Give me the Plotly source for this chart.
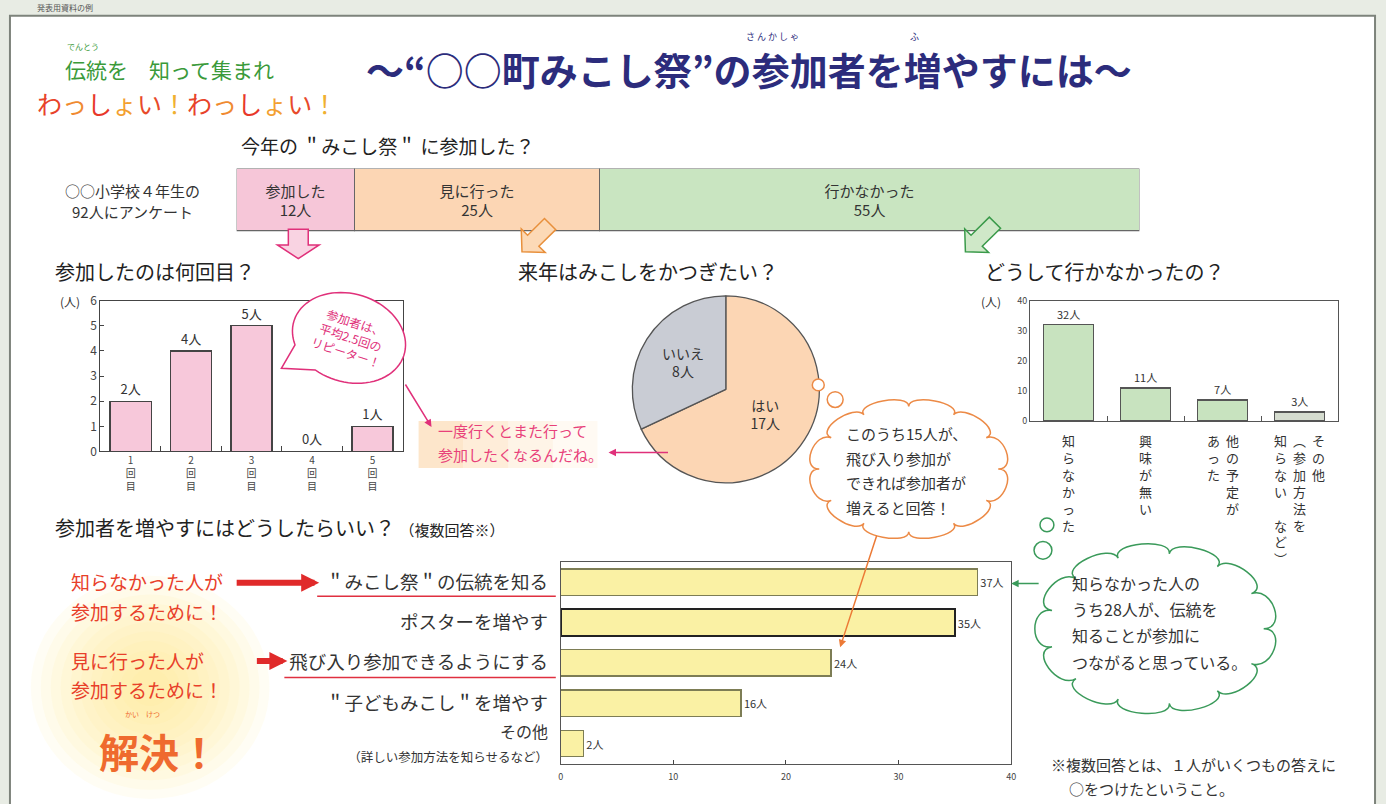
import math
import plotly.graph_objects as go

W, H = 1386, 804
FONT = "Noto Sans CJK JP"

# data
survey_labels = ["参加した", "見に行った", "行かなかった"]
survey_counts = [12, 25, 55]
survey_colors = ["#f6c6d8", "#fcd6b4", "#c9e5c1"]

times_labels = ["1回目", "2回目", "3回目", "4回目", "5回目"]
times_counts = [2, 4, 5, 0, 1]

next_labels = ["はい", "いいえ"]
next_counts = [17, 8]

reason_labels = ["知らなかった", "興味が無い", "他の予定があった", "その他（参加方法を知らない　など）"]
reason_columns = [["知らなかった"], ["興味が無い"], ["他の予定が", "あった"],
                  ["その他", "︵参加方法を", "知らない　など︶"]]
reason_counts = [32, 11, 7, 3]

idea_labels = ["＂みこし祭＂の伝統を知る", "ポスターを増やす", "飛び入り参加できるようにする",
               "＂子どもみこし＂を増やす", "その他（詳しい参加方法を知らせるなど）"]
idea_counts = [37, 35, 24, 16, 2]


def X(px):
    return px / W


def Y(py):
    return 1 - py / H


def path_from(points):
    s = "M %.5f %.5f " % (X(points[0][0]), Y(points[0][1]))
    for p in points[1:]:
        s += "L %.5f %.5f " % (X(p[0]), Y(p[1]))
    return s + "Z"


def cloud_path(cx, cy, rx, ry, n, k=1.22):
    d = 2 * math.pi / n
    def pt(a, f=1.0):
        return cx + f * rx * math.cos(a), cy + f * ry * math.sin(a)
    x0, y0 = pt(0)
    s = "M %.5f %.5f " % (X(x0), Y(y0))
    for i in range(n):
        a0, a1 = i * d, (i + 1) * d
        c1, c2, p1 = pt(a0, k), pt(a1, k), pt(a1)
        s += "C %.5f %.5f %.5f %.5f %.5f %.5f " % (X(c1[0]), Y(c1[1]), X(c2[0]), Y(c2[1]), X(p1[0]), Y(p1[1]))
    return s + "Z"


def block_arrow(tip, u, L, hl, hw, sw):
    ux, uy = u
    m = math.hypot(ux, uy)
    ux, uy = ux / m, uy / m
    nx, ny = -uy, ux
    local = [(0, 0), (-hl, hw), (-hl, sw), (-L, sw), (-L, -sw), (-hl, -sw), (-hl, -hw)]
    return [(tip[0] + a * ux + c * nx, tip[1] + a * uy + c * ny) for a, c in local]


def speech_bubble(cx, cy, rx, ry, tilt, tip, spread=0.28):
    t = math.radians(tilt)
    dx, dy = tip[0] - cx, tip[1] - cy
    lx = dx * math.cos(-t) - dy * math.sin(-t)
    ly = dx * math.sin(-t) + dy * math.cos(-t)
    ac = math.atan2(ly / ry, lx / rx)
    pts = []
    added = False
    for i in range(80):
        a = 2 * math.pi * i / 80
        diff = (a - ac + math.pi) % (2 * math.pi) - math.pi
        if abs(diff) < spread:
            if not added:
                pts.append(tip)
                added = True
            continue
        ex, ey = rx * math.cos(a), ry * math.sin(a)
        pts.append((cx + ex * math.cos(t) - ey * math.sin(t), cy + ex * math.sin(t) + ey * math.cos(t)))
    return pts


fig = go.Figure()

# top stacked bar
for lab, cnt, col in zip(survey_labels, survey_counts, survey_colors):
    fig.add_trace(go.Bar(
        y=["q"], x=[cnt], orientation="h", xaxis="x", yaxis="y", width=1,
        marker=dict(color=col, line=dict(color="#666", width=1.5)),
        text=[f"{lab}<br>{cnt}人"], textposition="inside", insidetextanchor="middle",
        textangle=0, textfont=dict(size=15, color="#333"), hoverinfo="skip"))

# left bar chart
fig.add_trace(go.Bar(
    x=["<br>".join(t) for t in times_labels], y=times_counts, xaxis="x2", yaxis="y2", width=0.68,
    marker=dict(color="#f7c8da", line=dict(color="#444", width=1.3)),
    text=[f"{v}人" for v in times_counts], textposition="outside", cliponaxis=False,
    textfont=dict(size=13, color="#333")))

# right bar chart
fig.add_trace(go.Bar(
    x=reason_labels, y=reason_counts, xaxis="x3", yaxis="y3", width=0.65,
    marker=dict(color=["#c8e3bf", "#c8e3bf", "#c8e3bf", "#d5dccf"], line=dict(color="#555", width=1.3)),
    text=[f"{v}人" for v in reason_counts], textposition="outside", cliponaxis=False,
    textfont=dict(size=11, color="#333")))

# bottom horizontal bars
idea_ticks = []
for lab in idea_labels:
    if "（" in lab:
        a, b = lab.split("（", 1)
        idea_ticks.append(f"<span style='font-size:16px'>{a}</span><br><span style='font-size:12.5px'>（{b}</span>")
    else:
        idea_ticks.append(lab)
fig.add_trace(go.Bar(
    y=idea_ticks, x=idea_counts, orientation="h", xaxis="x4", yaxis="y4", width=0.65,
    marker=dict(color="#faf1a4", line=dict(color=["#7d7d55", "#222", "#7d7d55", "#7d7d55", "#7d7d55"],
                                           width=[1.3, 2, 1.3, 1.3, 1.3])),
    text=[f"{v}人" for v in idea_counts], textposition="outside", cliponaxis=False,
    textfont=dict(size=11, color="#333")))

# pie (plotly's counterclockwise puts the first slice just right of 12 o'clock)
fig.add_trace(go.Pie(
    labels=next_labels, values=next_counts, sort=False, direction="counterclockwise", rotation=0,
    domain=dict(x=[X(632), X(822)], y=[Y(483), Y(292)]),
    marker=dict(colors=["#fcd6b4", "#c9ccd4"], line=dict(color="#555", width=1.3)),
    text=[f"{l}<br>{v}人" for l, v in zip(next_labels, next_counts)], textinfo="text",
    textposition="inside", insidetextorientation="horizontal",
    textfont=dict(size=14, color="#333"), showlegend=False))

shapes = []
ann = []

# page background panel
shapes.append(dict(type="rect", xref="paper", yref="paper", x0=X(7), x1=X(1380), y0=Y(815), y1=Y(6),
                   fillcolor="white", line=dict(color="#7d837b", width=2), layer="below"))
# yellow glow behind 解決
for r in range(120, 10, -10):
    shapes.append(dict(type="circle", xref="paper", yref="paper", x0=X(148 - r), x1=X(148 + r),
                       y0=Y(692 + r * 0.95), y1=Y(692 - r * 0.95), fillcolor="rgba(255,236,130,0.09)",
                       line=dict(width=0), layer="below"))
# orange-tinted note box
for i, op in enumerate([0.55, 0.4, 0.25, 0.12]):
    shapes.append(dict(type="rect", xref="paper", yref="paper", x0=X(418 + i * 45), x1=X(463 + i * 45),
                       y0=Y(468), y1=Y(420), fillcolor=f"rgba(252,210,160,{op})", line=dict(width=0),
                       layer="below"))

# block arrows under the stacked bar
shapes.append(dict(type="path", xref="paper", yref="paper",
                   path=path_from(block_arrow((297, 254), (0, 1), 30, 14, 21, 10)),
                   fillcolor="#f9d3e2", line=dict(color="#e0307a", width=1.5)))
shapes.append(dict(type="path", xref="paper", yref="paper",
                   path=path_from(block_arrow((522, 247), (-1, 1), 40, 16, 17, 8)),
                   fillcolor="#fcd9b6", line=dict(color="#e8903c", width=1.5)))
shapes.append(dict(type="path", xref="paper", yref="paper",
                   path=path_from(block_arrow((968, 247), (-1, 1), 42, 16, 17, 8)),
                   fillcolor="#cfe8c8", line=dict(color="#3a9a4a", width=1.5)))

# pink speech bubble
shapes.append(dict(type="path", xref="paper", yref="paper",
                   path=path_from(speech_bubble(348, 335, 58, 45, 18, (280, 366))),
                   fillcolor="white", line=dict(color="#e0307a", width=1.5)))

# orange thought cloud
shapes.append(dict(type="path", xref="paper", yref="paper", path=cloud_path(911, 469, 90, 64, 12),
                   fillcolor="white", line=dict(color="#ec8a46", width=1.5)))
for cx, cy, r in [(820, 383, 6), (837, 398, 8)]:
    shapes.append(dict(type="circle", xref="paper", yref="paper", x0=X(cx - r), x1=X(cx + r),
                       y0=Y(cy + r), y1=Y(cy - r), fillcolor="white", line=dict(color="#ec8a46", width=1.5)))

# green thought cloud
shapes.append(dict(type="path", xref="paper", yref="paper", path=cloud_path(1160, 632, 108, 77, 13),
                   fillcolor="white", line=dict(color="#3a9a5a", width=1.5)))
for cx, cy, r in [(1050, 526, 7), (1046, 552, 9)]:
    shapes.append(dict(type="circle", xref="paper", yref="paper", x0=X(cx - r), x1=X(cx + r),
                       y0=Y(cy + r), y1=Y(cy - r), fillcolor="white", line=dict(color="#3a9a5a", width=1.5)))

# red underlines of the two key ideas
for x0, yy in [(316, 599), (283, 682)]:
    shapes.append(dict(type="line", xref="paper", yref="paper", x0=X(x0), x1=X(556), y0=Y(yy), y1=Y(yy),
                       line=dict(color="#e03040", width=1.5)))


def text(x, y, s, size, color="#333", xanchor="left", yanchor="middle", **kw):
    ann.append(dict(x=X(x), y=Y(y), xref="paper", yref="paper", text=s, showarrow=False,
                    xanchor=xanchor, yanchor=yanchor, font=dict(size=size, color=color, family=FONT), **kw))


def arrow(tip, tail, color, width, head=2, size=1.0):
    ann.append(dict(x=X(tip[0]), y=Y(tip[1]), xref="paper", yref="paper", text="", showarrow=True,
                    ax=tail[0] - tip[0], ay=tail[1] - tip[1], arrowcolor=color, arrowwidth=width,
                    arrowhead=head, arrowsize=size))


# page header
text(32, -3, "発表用資料の例", 8, "#555")

# titles
text(60, 60, "伝統を　知って集まれ", 21, "#3a9a3a")
text(62, 37, "でんとう", 8, "#3a9a3a")
wasshoi_colors = ["#e8432a", "#f08a30", "#e8382a", "#f3a030", "#e84a2a", "#f0b030"] * 2
wasshoi = "".join(f"<span style='color:{c}'>{ch}</span>" for ch, c in zip("わっしょい！わっしょい！", wasshoi_colors))
text(32, 95, wasshoi, 25)
text(363, 60, "<b>～“○○町みこし祭”の参加者を増やすには～</b>", 38, "#2c2c7c")
text(745, 27, "さ ん か し ゃ", 9, "#2c2c7c")
text(910, 27, "ふ", 9, "#2c2c7c")

text(237, 138, "今年の ＂みこし祭＂ に参加した？", 19, "#222")
text(130, 184, "○○小学校４年生の", 15, "#333", xanchor="center")
text(130, 206, "92人にアンケート", 15, "#333", xanchor="center")

text(50, 267, "参加したのは何回目？", 20, "#222")
text(516, 267, "来年はみこしをかつぎたい？", 20, "#222")
text(986, 267, "どうして行かなかったの？", 20, "#222")
text(50, 529, "参加者を増やすにはどうしたらいい？ <span style='font-size:15px'>（複数回答※）</span>", 20, "#222")

text(55, 298, "(人)", 12, "#333")
text(982, 298, "(人)", 12, "#333")

# vertical category labels of the right chart
for lab, cols in zip(reason_labels, reason_columns):
    n = len(cols)
    for j, col in enumerate(cols):
        ann.append(dict(x=lab, y=Y(428), xref="x3", yref="paper", text="<br>".join(col), showarrow=False,
                        xanchor="center", yanchor="top", xshift=((n - 1) / 2 - j) * 19,
                        font=dict(size=13, color="#333", family=FONT)))

# bubble texts
ann.append(dict(x=X(350), y=Y(334), xref="paper", yref="paper", showarrow=False, textangle=18,
                xanchor="center", yanchor="middle",
                text="参加者は、<br>平均2.5回の<br>リピーター！", font=dict(size=12, color="#e0307a", family=FONT)))
text(436, 430, "一度行くとまた行って", 15, "#e8407a")
text(436, 454, "参加したくなるんだね。", 15, "#e8407a")
for i, s in enumerate(["このうち15人が、", "飛び入り参加が", "できれば参加者が", "増えると回答！"]):
    text(846, 433 + i * 25, s, 15, "#333")
for i, s in enumerate(["知らなかった人の", "うち28人が、伝統を", "知ることが参加に", "つながると思っている。"]):
    text(1073, 585 + i * 27, s, 16, "#333")

# bottom-left notes
text(66, 584, "知らなかった人が", 19, "#e8402a")
text(66, 614, "参加するために！", 19, "#e8402a")
text(66, 665, "見に行った人が", 19, "#e8402a")
text(66, 694, "参加するために！", 19, "#e8402a")
text(157, 757, "<b>解決！</b>", 40, "#ef6a2e", xanchor="center")
text(140, 719, "かい　けつ", 7, "#ef6a2e", xanchor="center")

text(1052, 771, "※複数回答とは、１人がいくつもの答えに", 15, "#333")
text(1070, 795, "○をつけたということ。", 15, "#333")

# arrows
arrow((318, 585), (234, 585), "#e02a2a", 6, head=2, size=0.6)
arrow((286, 665), (254, 665), "#e02a2a", 6, head=2, size=0.6)
arrow((431, 426), (404, 382), "#e0307a", 1.5)
arrow((609, 452), (670, 452), "#e0307a", 1.5)
arrow((842, 651), (879, 538), "#ec7a36", 1.5)
arrow((1014, 586), (1043, 586), "#3a9a5a", 1.5)

fig.update_layout(
    width=W, height=H, margin=dict(l=0, r=0, t=0, b=0),
    paper_bgcolor="#e8ece4", plot_bgcolor="rgba(0,0,0,0)",
    font=dict(family=FONT, color="#333"), showlegend=False, barmode="stack",
    shapes=shapes, annotations=ann,
    xaxis=dict(domain=[X(235), X(1143)], range=[0, sum(survey_counts)], visible=False, fixedrange=True),
    yaxis=dict(domain=[Y(226), Y(162)], range=[-0.5, 0.5], visible=False),
    xaxis2=dict(domain=[X(98), X(402)], anchor="y2", showline=True, mirror=True, linecolor="#444",
                ticks="inside", tickson="boundaries", ticklen=5, tickcolor="#444",
                tickfont=dict(size=10, color="#444")),
    yaxis2=dict(domain=[Y(451), Y(297)], anchor="x2", range=[0, 6], dtick=1, showline=True, mirror=True,
                linecolor="#444", ticks="inside", ticklen=4, showgrid=False, zeroline=False,
                tickfont=dict(size=12, color="#444")),
    xaxis3=dict(domain=[X(1033), X(1343)], anchor="y3", showline=True, mirror=True, linecolor="#555",
                ticks="inside", tickson="boundaries", ticklen=5, tickcolor="#555", showticklabels=False),
    yaxis3=dict(domain=[Y(420), Y(297)], anchor="x3", range=[0, 40], dtick=10, showline=True, mirror=True,
                linecolor="#555", ticks="", showgrid=False, zeroline=False,
                tickfont=dict(size=9, color="#444")),
    xaxis4=dict(domain=[X(561), X(1014)], anchor="y4", range=[0, 40], dtick=10, showline=True, mirror=True,
                linecolor="#555", ticks="inside", ticklen=4, showgrid=False, zeroline=False,
                ticklabelstandoff=4, tickfont=dict(size=9, color="#444")),
    yaxis4=dict(domain=[Y(770), Y(564)], anchor="x4", autorange="reversed", showline=True, mirror=True,
                linecolor="#555", ticks="", ticklabelstandoff=8, tickfont=dict(size=18.5, color="#333")),
)

# drop the browser's default page margin so the figure sits at the window's corner
fig.write_html("out.html", config={"displayModeBar": False},
               post_script="document.body.style.margin='0px';")
